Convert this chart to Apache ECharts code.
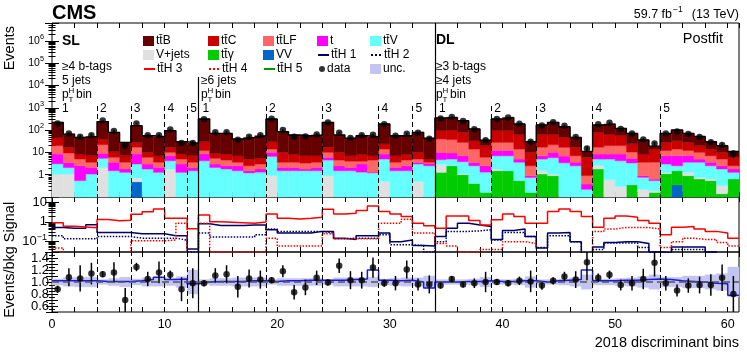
<!DOCTYPE html>
<html>
<head>
<meta charset="utf-8">
<script src="https://cdn.jsdelivr.net/npm/echarts@6/dist/echarts.min.js"></script>
<style>
  html, body { margin: 0; padding: 0; background: #fff; }
  #chart { width: 747px; height: 352px; }
</style>
</head>
<body>
<div id="chart"></div>
<script>
// 61 discriminant bins: SL 5 jets (0-12), SL >=6 jets (13-33), DL (34-60)
const ttB = [177, 49, 38.6, 45, 200, 68, 21, 130, 46, 43, 77, 21.6, 19,
    283, 62, 62.6, 33, 42, 50.5, 283, 75, 52, 49, 53, 205, 50, 36, 48, 43, 164, 49, 48, 69, 38,
    254, 270, 186, 79, 15, 219, 276, 125, 20, 107, 159, 95, 30, 5, 91, 125, 63, 47, 27.5, 5, 43, 67, 43, 32, 16, 10, 5];
const ttC = [25, 7.6, 3.4, 3.5, 18, 4.7, 3.5, 11, 4, 3.4, 7, 3.4, 3.5,
    18, 3.6, 3.9, 3.4, 2.5, 2.5, 16, 6.4, 4.4, 3.7, 3.4, 7, 5.5, 3, 4, 2.5, 10, 3.4, 3.5, 5, 1.4,
    54, 63, 51, 19, 14, 66, 66, 49, 7.5, 46, 41, 30, 10, 5.1, 62, 43, 36, 14, 4.9, 10.4, 16, 19, 16, 10, 7, 5, 3.5];
const ttLF = [11.6, 5.9, 2.5, 1.5, 13, 2.4, 1.8, 8.6, 3, 1.5, 3, 2, 1.6,
    3.5, 2.4, 2, 1.1, 1, 1.2, 4, 1.5, 1.5, 1.5, 1.5, 4, 2, 1.9, 1, 3.2, 5.6, 1.5, 2, 1.5, 0.4,
    30, 27.6, 21, 10.5, 3.5, 16, 16, 9, 1.6, 10, 12, 10, 3.4, 0.52, 8.6, 11.6, 11.6, 5, 2.7, 3, 5, 7, 5, 5, 3.4, 2.5, 0.7];
const tSingle = [5.3, 1.4, 2, 1, 3.6, 2.1, 0.53, 5.4, 1.2, 0.83, 2.8, 1.73, 0.5,
    4.3, 0.9, 0.7, 1, 0.3, 0.5, 3.4, 0.6, 0.6, 0.3, 0.6, 1.5, 1, 0.6, 1.7, 0.1, 3.4, 0.6, 1, 0.5, 0.7,
    5.3, 4.4, 3.2, 1, 1.2, 5, 5, 1.4, 0.15, 2, 4.2, 3.4, 1.1, 0.16, 3.4, 3.4, 4.2, 2, 0.14, 0.09, 4, 4.5, 3.5, 1.4, 1.1, 0.7, 0.53];
const ttV = [2.0, 1.0, 0.54, 1.07, 3.3, 1.5, 1.27, 2.3, 1.8, 1.27, 2.4, 1.27, 1.5,
    4.2, 2.1, 1.8, 1.5, 1.2, 1.3, 5.7, 1.5, 1.5, 1.5, 1.5, 3.6, 1.5, 1.5, 1.3, 1.2, 4.5, 1.5, 1.5, 2.5, 2.5,
    1.7, 2.4, 2.7, 2.1, 1.14, 5.2, 5.5, 3.06, 0.59, 3.5, 4.7, 3.4, 2.5, 0.22, 2.4, 4.4, 3.9, 3, 0.54, 0.35, 1.73, 1, 2.3, 2.84, 1.86, 1.48, 0.63];
const vJets = [1.07, 1.07, 0, 0, 2.1, 0, 0, 0.23, 0, 0, 1.8, 0, 0,
    0, 0, 0, 0, 0, 0, 0.9, 0, 0, 0, 0, 0.9, 0, 0, 0, 0, 0.5, 0, 0, 0.5, 0,
    1.73, 0.1, 0.1, 0, 0, 0.3, 0, 0, 0, 0.43, 0.17, 0, 0, 0, 0.8, 0.6, 0.3, 0, 0.22, 0.03, 0.17, 0, 0.4, 0.12, 0.1, 0.18, 0];
const ttGamma = [0, 0, 0, 0, 0, 0, 0, 0, 0, 0, 0, 0, 0,
    0, 0, 0, 0, 0, 0, 0, 0, 0, 0, 0, 0, 0, 0, 0, 0, 0, 0, 0, 0, 0,
    1.27, 2.5, 1.0, 0.4, 0.16, 1.5, 1.5, 0.54, 0.16, 1.07, 0.9, 0, 0, 0, 1.8, 0, 0, 0.35, 0, 0.16, 1.1, 1.15, 0.9, 0.64, 0.54, 0.14, 0.64];
const vv = [0, 0, 0, 0, 0, 0, 0, 0.48, 0, 0, 0, 0, 0,
    0, 0, 0, 0, 0, 0, 0, 0, 0, 0, 0, 0, 0, 0, 0, 0, 0, 0, 0, 0, 0,
    0, 0, 0, 0, 0, 0, 0, 0, 0, 0, 0, 0, 0, 0, 0, 0, 0, 0, 0, 0, 0, 0.35, 0, 0, 0, 0, 0];
const dataCounts = [195, 71, 50, 59, 271, 91, 20, 197, 59, 58, 105, 26, 26,
    307, 79, 80, 37, 50, 58, 322, 100, 50, 51, 64, 220, 76, 44, 58, 62, 184, 55, 68, 76, 41,
    327, 388, 254, 110, 35, 313, 363, 192, 30, 160, 226, 155, 49, 15, 182, 211, 113, 70, 38, 25, 70, 86, 67, 49, 28.5, 21.4, 8.8];

// signal panel
const ttH1 = [0.52, 0.48, 0.48, 0.72, 0.29, 0.29, 0.29, 0.25, 0.25, 0.25, 0.2, 0.2, 0.043,
    0.8, 0.65, 0.65, 0.65, 0.7, 0.7, 0.4, 0.27, 0.27, 0.27, 0.33, 0.33, 0.15, 0.13, 0.2, 0.2, 0.27, 0.1, 0.12, 0.063, 0.06,
    0.18, 0.48, 0.86, 0.7, 0.58, 0.13, 0.37, 0.43, 0.18, 0.048, 0.27, 0.29, 0.1, 0.025, 0.054, 0.09, 0.1, 0.1, 0.08, 0.03, 0.027, 0.054, 0.054, 0.054, 0.03, 0.02, 0.02];
const ttH2 = [0.2, 0.14, 0.14, 0.14, 0.18, 0.18, 0.18, 0.15, 0.15, 0.15, 0.15, 0.12, 0.03,
    0.27, 0.17, 0.17, 0.17, 0.17, 0.22, 0.43, 0.33, 0.33, 0.33, 0.33, 0.27, 0.14, 0.15, 0.15, 0.15, 0.22, 0.07, 0.07, 0.063, 0.03,
    0.1, 0.33, 0.33, 0.35, 0.4, 0.12, 0.29, 0.29, 0.18, 0.05, 0.2, 0.2, 0.1, 0.02, 0.04, 0.086, 0.086, 0.086, 0.05, 0.03, 0.025, 0.04, 0.04, 0.04, 0.03, 0.02, 0.02];
const ttH3 = [0.9, 0.6, 0.55, 0.5, 1.3, 1.15, 1.2, 2.4, 3.2, 4.5, 1.5, 1.5, 0.45,
    2.2, 1.0, 0.95, 0.9, 0.85, 0.97, 2.5, 1.5, 1.4, 1.5, 1.7, 4.3, 2.5, 2.7, 3.7, 6.3, 3.3, 2.5, 1.85, 0.86, 0.63,
    0.48, 2.0, 2.0, 1.17, 0.7, 1.26, 2.5, 1.85, 0.86, 0.86, 3.3, 4.5, 3.3, 1.85, 0.54, 1.5, 2.0, 1.7, 1.17, 0.86, 0.22, 0.54, 0.58, 0.43, 0.33, 0.27, 0.15];
const ttH4 = [0.048, 0.02, 0.02, 0.02, 0.02, 0.02, 0.02, 0.11, 0.11, 0.11, 0.12, 0.86, 0.02,
    0.86, 0.03, 0.03, 0.03, 0.03, 0.03, 0.15, 0.06, 0.06, 0.06, 0.06, 0.25, 0.14, 0.14, 0.14, 0.14, 0.86, 0.86, 1.36, 0.27, 0.27,
    0.08, 0.06, 0.03, 0.03, 0.04, 0.04, 0.1, 0.1, 0.08, 0.02, 0.02, 0.02, 0.02, 0.02, 0.33, 0.43, 0.52, 0.52, 0.52, 0.43, 0.05, 0.1, 0.15, 0.13, 0.13, 0.09, 0.06];
const ttH5 = [0.01, 0.01, 0.01, 0.01, 0.01, 0.01, 0.01, 0.01, 0.01, 0.01, 0.01, 0.01, 0.01,
    0.01, 0.01, 0.01, 0.01, 0.01, 0.01, 0.01, 0.01, 0.01, 0.01, 0.01, 0.01, 0.01, 0.01, 0.01, 0.01, 0.01, 0.01, 0.01, 0.01, 0.01,
    0.01, 0.01, 0.01, 0.01, 0.01, 0.01, 0.01, 0.01, 0.01, 0.01, 0.01, 0.01, 0.01, 0.01, 0.01, 0.01, 0.01, 0.01, 0.01, 0.01, 0.01, 0.01, 0.01, 0.01, 0.01, 0.01, 0.01];

// ratio panel
const dataRatio = [0.88, 1.08, 1.06, 1.14, 1.13, 1.16, 0.70, 1.25, 1.05, 1.16, 1.12, 0.88, 0.98,
    0.98, 1.11, 1.13, 0.92, 1.06, 1.04, 1.03, 1.18, 0.83, 0.91, 1.07, 0.99, 1.27, 1.03, 1.03, 1.24, 0.98, 0.98, 1.21, 0.96, 0.96,
    0.94, 1.05, 0.96, 0.98, 1.0, 1.0, 0.98, 1.02, 1.01, 0.94, 1.02, 1.09, 1.04, 1.33, 1.07, 1.12, 0.95, 0.98, 1.05, 1.32, 0.98, 0.86, 0.94, 0.95, 0.95, 1.07, 0.8];
const ratioErr = [0.06, 0.15, 0.22, 0.18, 0.05, 0.17, 0.2, 0.07, 0.12, 0.18, 0.07, 0.2, 0.25,
    0.05, 0.12, 0.15, 0.18, 0.15, 0.15, 0.05, 0.1, 0.12, 0.13, 0.12, 0.05, 0.12, 0.15, 0.14, 0.17, 0.06, 0.12, 0.15, 0.1, 0.15,
    0.05, 0.05, 0.05, 0.08, 0.17, 0.05, 0.05, 0.07, 0.18, 0.07, 0.06, 0.08, 0.14, 0.3, 0.07, 0.07, 0.09, 0.12, 0.17, 0.23, 0.12, 0.1, 0.12, 0.14, 0.18, 0.22, 0.3];
const sigPlusBkg = [1.02, 1.02, 1.02, 1.02, 1.01, 1.01, 1.01, 1.02, 1.04, 1.08, 1.04, 1.05, 0.97,
    1.0, 1.01, 1.01, 1.01, 1.02, 1.02, 1.01, 1.02, 1.02, 1.03, 1.03, 1.03, 1.03, 1.04, 1.05, 1.2, 1.03, 1.02, 1.03, 1.0, 0.9,
    1.0, 1.0, 1.01, 1.01, 1.02, 1.01, 1.01, 1.02, 1.02, 1.0, 1.02, 1.03, 1.04, 1.2, 1.02, 1.02, 1.03, 1.03, 1.04, 1.05, 1.04, 1.02, 1.01, 1.0, 0.98, 0.97, 0.78];
const uncHalf = [0.05, 0.07, 0.08, 0.08, 0.04, 0.06, 0.08, 0.05, 0.07, 0.07, 0.06, 0.09, 0.2,
    0.04, 0.06, 0.06, 0.07, 0.07, 0.07, 0.04, 0.06, 0.06, 0.06, 0.06, 0.04, 0.07, 0.07, 0.07, 0.08, 0.05, 0.06, 0.07, 0.07, 0.1,
    0.04, 0.04, 0.04, 0.05, 0.08, 0.04, 0.04, 0.05, 0.09, 0.04, 0.04, 0.05, 0.07, 0.12, 0.05, 0.05, 0.06, 0.07, 0.09, 0.12, 0.08, 0.08, 0.1, 0.1, 0.12, 0.14, 0.25];

const dashedEdges = [4, 7, 10, 12, 19, 24, 29, 32, 39, 43, 48, 54];
const regionStarts = [[0, 4, 7, 10, 12], [13, 19, 24, 29, 32], [34, 39, 43, 48, 54]];
const mainDecades = [0, 1, 2, 3, 4, 5, 6];
const signalDecades = [-1, 0, 1];

const NBINS = 61;
const FONT = "'Liberation Sans', Arial, sans-serif";
const Y_MIN_MAIN = 0.1, Y_MAX_MAIN = 6.3e6;
const Y_MIN_SIG = 0.03, Y_MAX_SIG = 18;
const TT = 'tt\u0304';

const chart = echarts.init(document.getElementById('chart'));

// stack, bottom to top
const stackDefs = [
    { name: 'VV', vals: vv, color: '#0066cc' },
    { name: TT + '\u03b3', vals: ttGamma, color: '#00cc00' },
    { name: 'V+jets', vals: vJets, color: '#e0e0e0' },
    { name: TT + 'V', vals: ttV, color: '#66ffff' },
    { name: 't', vals: tSingle, color: '#ff00ff' },
    { name: TT + 'LF', vals: ttLF, color: '#ff6666' },
    { name: TT + 'C', vals: ttC, color: '#cc0000' },
    { name: TT + 'B', vals: ttB, color: '#660000' },
];
const base = new Array(NBINS).fill(0);
const stackData = stackDefs.map(d => {
    const rows = d.vals.map((v, i) => [i, base[i], base[i] + v]);
    d.vals.forEach((v, i) => { base[i] += v; });
    return rows;
});
const totals = base.slice();

const stepData = arr => arr.map((v, i) => [i, v]).concat([[NBINS, arr[NBINS - 1]]]);

function blockRender(yFloor) {
    return function (params, api) {
        const lo = Math.max(api.value(1), yFloor);
        const hi = api.value(2);
        if (!(hi > lo)) return null;
        const a = api.coord([api.value(0), hi]);
        const b = api.coord([api.value(0) + 1, lo]);
        const rect = echarts.graphic.clipRectByRect(
            { x: a[0], y: a[1], width: b[0] - a[0], height: b[1] - a[1] }, params.coordSys);
        const c = api.visual('color');
        return rect && { type: 'rect', shape: rect, style: { fill: c, stroke: c, lineWidth: 0.4 } };
    };
}
function errRender(params, api) {
    const a = api.coord([api.value(0), api.value(1)]);
    const b = api.coord([api.value(0), api.value(2)]);
    return { type: 'line', shape: { x1: a[0], y1: a[1], x2: b[0], y2: b[1] }, style: { stroke: '#000', lineWidth: 1.5 } };
}

function xAx(grid, pos, labels) {
    return {
        type: 'value', gridIndex: grid, position: pos, min: 0, max: NBINS, interval: 2,
        axisLine: { show: false }, splitLine: { show: false },
        axisTick: { inside: true, length: 5, lineStyle: { color: '#000' } },
        axisLabel: {
            show: labels, formatter: v => (v % 10 === 0 ? String(v) : ''),
            fontSize: 12.5, color: '#000', fontFamily: FONT, margin: 6,
            showMinLabel: true, showMaxLabel: false,
        },
    };
}
// log axes: ticks from ECharts, decade labels added as text below
function logAx(grid, pos, min, max) {
    return {
        type: 'log', logBase: 10, gridIndex: grid, position: pos, min, max,
        axisLine: { show: false }, splitLine: { show: false },
        axisTick: { inside: true, length: 7, lineStyle: { color: '#000' } },
        minorTick: { show: true, splitNumber: 9, length: 3.5, lineStyle: { color: '#000' } },
        axisLabel: { show: false },
    };
}
function ratioAx(pos, labels) {
    return {
        type: 'value', gridIndex: 2, position: pos, min: 0.5, max: 1.5, interval: 0.1,
        axisLine: { show: false }, splitLine: { show: false },
        axisTick: { inside: true, length: 6, lineStyle: { color: '#000' } },
        minorTick: { show: true, splitNumber: 2, length: 3, lineStyle: { color: '#000' } },
        axisLabel: {
            show: labels, color: '#000', fontFamily: FONT, fontSize: 13, margin: 3,
            formatter: v => {
                const k = Math.round(v * 10);
                return (k % 2 === 0 && k >= 6 && k <= 14) ? v.toFixed(1) : '';
            },
        },
    };
}

const gridBox = { left: 52, right: 8, show: true, borderColor: '#000', borderWidth: 1, backgroundColor: 'transparent' };

const series = [];
stackDefs.forEach((d, k) => {
    series.push({
        name: d.name, type: 'custom', xAxisIndex: 0, yAxisIndex: 0,
        itemStyle: { color: d.color }, renderItem: blockRender(Y_MIN_MAIN),
        encode: { x: 0, y: [1, 2] }, data: stackData[k], silent: true, z: 2,
    });
});
series.push({
    name: 'total', type: 'line', xAxisIndex: 0, yAxisIndex: 0, step: 'end',
    data: stepData(totals), symbol: 'none', lineStyle: { color: '#000', width: 1.4 }, z: 3, silent: true,
    markLine: {
        symbol: ['none', 'none'], silent: true, label: { show: false }, animation: false,
        lineStyle: { color: '#000', width: 1, type: [5, 3] },
        data: dashedEdges.map(x => [{ coord: [x, 1200] }, { coord: [x, Y_MIN_MAIN] }]).concat([
            [{ coord: [13, 24000], lineStyle: { type: 'solid', width: 1.2 } }, { coord: [13, Y_MIN_MAIN] }],
            [{ coord: [34, Y_MAX_MAIN], lineStyle: { type: 'solid', width: 1.2 } }, { coord: [34, Y_MIN_MAIN] }],
        ]),
    },
});
series.push({
    name: 'dataErr', type: 'custom', xAxisIndex: 0, yAxisIndex: 0, renderItem: errRender, clip: true,
    data: dataCounts.map((d, i) => [i + 0.5, Math.max(d - ratioErr[i] * totals[i], Y_MIN_MAIN), d + ratioErr[i] * totals[i]]),
    z: 4, silent: true,
});
series.push({
    name: 'data', type: 'scatter', xAxisIndex: 0, yAxisIndex: 0, symbolSize: 6.5,
    itemStyle: { color: '#000' }, data: dataCounts.map((d, i) => [i + 0.5, d]), z: 5, silent: true,
});

// signal panel
const sigDefs = [
    { name: TT + 'H 1', vals: ttH1, color: '#000066', type: 'solid' },
    { name: TT + 'H 2', vals: ttH2, color: '#000066', type: 'dotted' },
    { name: TT + 'H 3', vals: ttH3, color: '#ff0000', type: 'solid' },
    { name: TT + 'H 4', vals: ttH4, color: '#ff0000', type: 'dotted' },
    { name: TT + 'H 5', vals: ttH5, color: '#009900', type: 'solid' },
];
sigDefs.forEach((d, k) => {
    const s = {
        name: d.name, type: 'line', xAxisIndex: 2, yAxisIndex: 2, step: 'end', symbol: 'none',
        data: stepData(d.vals), itemStyle: { color: d.color },
        lineStyle: { color: d.color, width: 1.5, type: d.type }, silent: true, z: 3,
    };
    if (k === 0) {
        s.markLine = {
            symbol: ['none', 'none'], silent: true, label: { show: false }, animation: false,
            lineStyle: { color: '#000', width: 1, type: [5, 3] },
            data: dashedEdges.map(x => ({ xAxis: x })).concat([
                { xAxis: 13, lineStyle: { type: 'solid', width: 1.2 } },
                { xAxis: 34, lineStyle: { type: 'solid', width: 1.2 } },
            ]),
        };
    }
    series.push(s);
});

// ratio panel
series.push({
    name: 'unc.', type: 'custom', xAxisIndex: 4, yAxisIndex: 4, itemStyle: { color: '#c4c4f2' },
    renderItem: blockRender(0.5), encode: { x: 0, y: [1, 2] },
    data: uncHalf.map((u, i) => [i, 1 - u, 1 + u]), silent: true, z: 1,
    markLine: {
        symbol: ['none', 'none'], silent: true, label: { show: false }, animation: false,
        lineStyle: { color: '#000', width: 1, type: [5, 3] },
        data: dashedEdges.map(x => ({ xAxis: x })).concat([
            { xAxis: 13, lineStyle: { type: 'solid', width: 1.2 } },
            { xAxis: 34, lineStyle: { type: 'solid', width: 1.2 } },
            { yAxis: 1, lineStyle: { type: [7, 4], color: '#555', width: 1.6 } },
        ]),
    },
});
series.push({
    name: 'S+B', type: 'line', xAxisIndex: 4, yAxisIndex: 4, step: 'end', symbol: 'none',
    data: stepData(sigPlusBkg), lineStyle: { color: '#1a1adf', width: 1.5 }, silent: true, z: 3,
});
series.push({
    name: 'ratioErr', type: 'custom', xAxisIndex: 4, yAxisIndex: 4, renderItem: errRender, clip: true,
    data: dataRatio.map((r, i) => [i + 0.5, r - ratioErr[i], r + ratioErr[i]]), z: 4, silent: true,
});
series.push({
    name: 'ratio', type: 'scatter', xAxisIndex: 4, yAxisIndex: 4, symbolSize: 6.5,
    itemStyle: { color: '#000' }, data: dataRatio.map((r, i) => [i + 0.5, r]), z: 5, silent: true,
});

// legend, 5 columns x 3 rows
const legendCols = [143, 208, 263, 317, 370];
const legendRows = [35, 49, 63];
const legendNames = [
    [TT + 'B', TT + 'C', TT + 'LF', 't', TT + 'V'],
    ['V+jets', TT + '\u03b3', 'VV', TT + 'H 1', TT + 'H 2'],
    [TT + 'H 3', TT + 'H 4', TT + 'H 5', 'data', 'unc.'],
];
const legends = [];
legendNames.forEach((row, r) => row.forEach((name, c) => {
    const isLine = name.indexOf('H ') > 0;
    const item = { name };
    if (name === 'data') item.icon = 'circle';
    else if (!isLine) item.icon = 'rect';
    const lg = {
        data: [item], left: legendCols[c] + (name === 'data' ? 2 : 0), top: legendRows[r],
        itemWidth: name === 'data' ? 6 : 11, itemHeight: name === 'data' ? 6 : 10,
        itemGap: 0, selectedMode: false, padding: 0,
        textStyle: { fontSize: 12, fontFamily: FONT, color: '#000', padding: [0, 0, 0, -3] },
    };
    if (isLine) lg.itemStyle = { opacity: 0 };
    legends.push(lg);
}));

function txt(x, y, text, size, opts) {
    opts = opts || {};
    return {
        type: 'text', x, y, rotation: opts.rot || 0, silent: true,
        style: {
            text, fill: '#000', align: opts.align || 'left', verticalAlign: 'middle',
            font: (opts.bold ? 'bold ' : '') + size + 'px ' + FONT,
        },
    };
}
function ptLabel(x, y) {
    return [txt(x, y, 'p', 12), txt(x + 6.5, y - 4, 'H', 8), txt(x + 6.5, y + 4.5, 'T', 8), txt(x + 14, y, 'bin', 12)];
}
const graphics = [
    txt(52, 13, 'CMS', 20, { bold: true }),
    txt(672, 15, '59.7 fb', 12.5, { align: 'right' }),
    txt(673, 10, '\u22121', 8.5),
    txt(739, 15, '(13 TeV)', 12.5, { align: 'right' }),
    txt(723, 39, 'Postfit', 14.5, { align: 'right' }),
    txt(62, 41, 'SL', 14, { bold: true }),
    txt(436, 40, 'DL', 14, { bold: true }),
    txt(62, 67, '\u22654 b-tags', 12),
    txt(62, 81, '5 jets', 12),
    txt(201, 81, '\u22656 jets', 12),
    txt(436, 67, '\u22653 b-tags', 12),
    txt(436, 81, '\u22654 jets', 12),
    txt(10, 26, 'Events', 14.5, { align: 'right', rot: Math.PI / 2 }),
    txt(10, 222, 'Signal', 14.5, { align: 'center', rot: Math.PI / 2 }),
    txt(10, 282, 'Events/bkg', 14.5, { align: 'center', rot: Math.PI / 2 }),
    txt(739, 343, '2018 discriminant bins', 14.5, { align: 'right' }),
].concat(ptLabel(62, 95), ptLabel(201, 95), ptLabel(436, 95));

chart.setOption({
    animation: false,
    backgroundColor: '#fff',
    textStyle: { fontFamily: FONT },
    grid: [
        Object.assign({ top: 23, height: 174 }, gridBox),
        Object.assign({ top: 197, height: 55 }, gridBox),
        Object.assign({ top: 252, height: 60 }, gridBox),
    ],
    xAxis: [
        xAx(0, 'bottom', false), xAx(0, 'top', false),
        xAx(1, 'bottom', false), xAx(1, 'top', false),
        xAx(2, 'bottom', true), xAx(2, 'top', false),
    ],
    yAxis: [
        logAx(0, 'left', Y_MIN_MAIN, Y_MAX_MAIN), logAx(0, 'right', Y_MIN_MAIN, Y_MAX_MAIN),
        logAx(1, 'left', Y_MIN_SIG, Y_MAX_SIG), logAx(1, 'right', Y_MIN_SIG, Y_MAX_SIG),
        ratioAx('left', true), ratioAx('right', false),
    ],
    legend: legends,
    series,
    graphic: graphics,
});

// decade labels on the log axes, placed through the axis scale
function decadeLabels(yAxisIndex, exps, rightX, fs) {
    const out = [];
    exps.forEach(e => {
        const y = chart.convertToPixel({ yAxisIndex }, Math.pow(10, e));
        if (e === 0) { out.push(txt(rightX, y, '1', fs, { align: 'right' })); return; }
        if (e === 1) { out.push(txt(rightX, y, '10', fs, { align: 'right' })); return; }
        const sup = e < 0 ? '\u2212' + (-e) : String(e);
        const supFs = fs * 0.7;
        const supW = (e < 0 ? 0.58 + 0.556 : 0.556) * supFs;
        out.push(txt(rightX, y - fs * 0.35, sup, supFs, { align: 'right' }));
        out.push(txt(rightX - supW, y, '10', fs, { align: 'right' }));
    });
    return out;
}

// bin-number labels next to the region separators
const binLabels = [];
regionStarts.forEach((starts, r) => starts.forEach((x, k) => {
    let px = chart.convertToPixel({ xAxisIndex: 0 }, x) + 3;
    if (r === 0 && k === 0) px = 62;
    if (r > 0 && k === 0) px += 1;
    binLabels.push(txt(px, 109, String(k + 1), 12));
}));
chart.setOption({
    graphic: graphics.concat(binLabels,
        decadeLabels(0, mainDecades, 44, 10.5),
        decadeLabels(2, signalDecades, 47, 13)),
});
</script>
</body>
</html>
